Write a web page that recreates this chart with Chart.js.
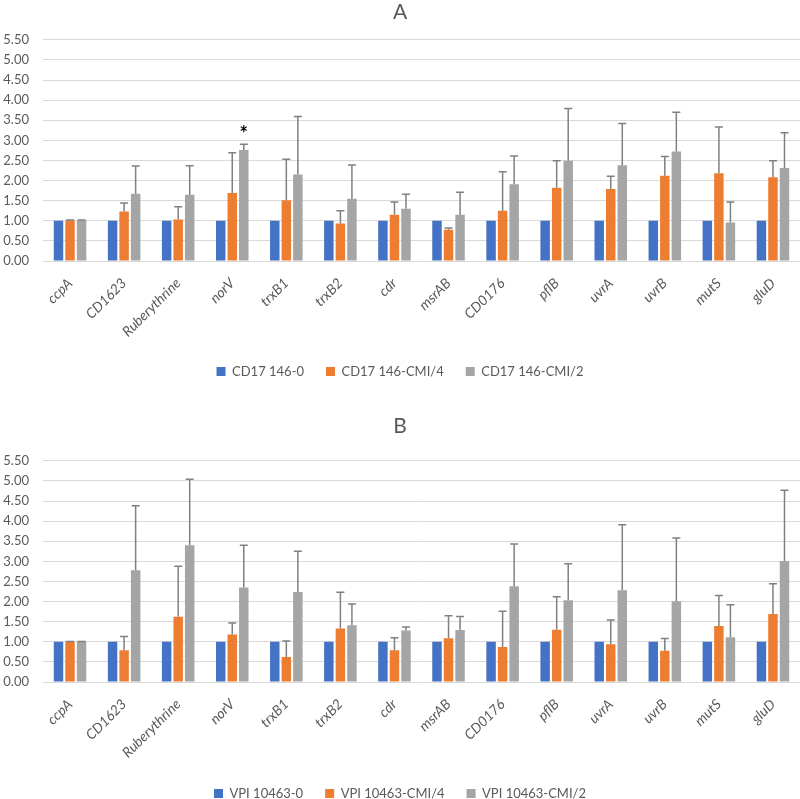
<!DOCTYPE html>
<html>
<head>
<meta charset="utf-8">
<script src="https://cdn.jsdelivr.net/npm/chart.js@4.4.1/dist/chart.umd.min.js"></script>
<style>
  html, body { margin: 0; padding: 0; background: #fff; overflow: hidden; width: 800px; height: 799px; }
  .panel { position: absolute; left: 0; width: 800px; }
  #panelA { top: 0; height: 388px; }
  #panelB { top: 410px; height: 400px; }
</style>
</head>
<body>
<div class="panel" id="panelA"><canvas id="chartA"></canvas></div>
<div class="panel" id="panelB"><canvas id="chartB"></canvas></div>
<script>
"use strict";

const genes = ["ccpA", "CD1623", "Ruberythrine", "norV", "trxB1", "trxB2", "cdr",
    "msrAB", "CD0176", "pflB", "uvrA", "uvrB", "mutS", "gluD"];

// panel A - CD17 146
const seriesA = ["CD17 146-0", "CD17 146-CMI/4", "CD17 146-CMI/2"];
const aBase = [1, 1, 1, 1, 1, 1, 1, 1, 1, 1, 1, 1, 1, 1];
const aQuarter = [1.01, 1.23, 1.03, 1.69, 1.51, 0.93, 1.15, 0.78, 1.25, 1.82, 1.79, 2.12, 2.18, 2.08];
const aQuarterErr = [0.01, 0.21, 0.32, 1.00, 1.02, 0.32, 0.32, 0.04, 0.97, 0.67, 0.32, 0.48, 1.15, 0.41];
const aHalf = [1.01, 1.67, 1.65, 2.76, 2.15, 1.55, 1.30, 1.15, 1.91, 2.49, 2.38, 2.72, 0.96, 2.31];
const aHalfErr = [0.01, 0.69, 0.72, 0.14, 1.44, 0.84, 0.36, 0.56, 0.70, 1.30, 1.04, 0.98, 0.51, 0.88];
const aStars = ["norV"];

// panel B - VPI 10463
const seriesB = ["VPI 10463-0", "VPI 10463-CMI/4", "VPI 10463-CMI/2"];
const bBase = [1, 1, 1, 1, 1, 1, 1, 1, 1, 1, 1, 1, 1, 1];
const bQuarter = [1.00, 0.79, 1.62, 1.18, 0.62, 1.33, 0.79, 1.09, 0.87, 1.30, 0.94, 0.78, 1.39, 1.69];
const bQuarterErr = [0.01, 0.34, 1.26, 0.29, 0.40, 0.90, 0.31, 0.56, 0.89, 0.82, 0.60, 0.30, 0.76, 0.75];
const bHalf = [1.00, 2.78, 3.40, 2.35, 2.24, 1.41, 1.28, 1.29, 2.38, 2.03, 2.28, 2.01, 1.11, 3.01];
const bHalfErr = [0.01, 1.60, 1.64, 1.05, 1.01, 0.53, 0.09, 0.34, 1.05, 0.91, 1.63, 1.57, 0.81, 1.76];
const bStars = [];

const yTicks = [0, 0.5, 1, 1.5, 2, 2.5, 3, 3.5, 4, 4.5, 5, 5.5];

const colors = ["#4472C4", "#ED7D31", "#A5A5A5"];
const textColor = "#595959";
const fontName = "Lato, 'Open Sans', sans-serif";

// draws upper error bars and significance stars
const errorBars = {
    id: "errorBars",
    afterDatasetsDraw(chart) {
        const ctx = chart.ctx;
        const yScale = chart.scales.y;
        ctx.save();
        ctx.strokeStyle = "#808080";
        ctx.lineWidth = 1.5;
        chart.data.datasets.forEach((ds, di) => {
            if (!ds.errors) return;
            const meta = chart.getDatasetMeta(di);
            meta.data.forEach((bar, i) => {
                const err = ds.errors[i];
                if (!err) return;
                const top = yScale.getPixelForValue(ds.data[i] + err);
                ctx.beginPath();
                ctx.moveTo(bar.x, bar.y);
                ctx.lineTo(bar.x, top);
                ctx.moveTo(bar.x - 4, top);
                ctx.lineTo(bar.x + 4, top);
                ctx.stroke();

                if (ds.stars && ds.stars.includes(chart.data.labels[i])) {
                    ctx.fillStyle = "#000";
                    ctx.font = "bold 20px " + fontName;
                    ctx.textAlign = "center";
                    ctx.textBaseline = "middle";
                    ctx.fillText("*", bar.x, top - 10);
                }
            });
        });
        ctx.restore();
    }
};

function makeChart(id, title, names, base, quarter, quarterErr, half, halfErr, stars, titlePad, xHeight) {
    return new Chart(document.getElementById(id), {
        type: "bar",
        data: {
            labels: genes,
            datasets: [
                { label: names[0], data: base, backgroundColor: colors[0] },
                { label: names[1], data: quarter, errors: quarterErr, backgroundColor: colors[1] },
                { label: names[2], data: half, errors: halfErr, stars: stars, backgroundColor: colors[2] }
            ]
        },
        plugins: [errorBars],
        options: {
            responsive: true,
            maintainAspectRatio: false,
            animation: false,
            categoryPercentage: 0.64,
            barPercentage: 0.82,
            layout: { padding: 0 },
            plugins: {
                title: {
                    display: true,
                    text: title,
                    color: textColor,
                    font: { family: fontName, size: 21, weight: "normal" },
                    padding: titlePad
                },
                legend: {
                    position: "bottom",
                    labels: {
                        boxWidth: 9,
                        boxHeight: 9,
                        padding: 22,
                        color: textColor,
                        font: { family: fontName, size: 13 }
                    }
                },
                tooltip: { enabled: false }
            },
            scales: {
                x: {
                    grid: { display: false },
                    border: { display: false },
                    ticks: {
                        color: textColor,
                        font: { family: fontName, size: 14, style: "italic" },
                        minRotation: 45,
                        maxRotation: 45,
                        padding: 6,
                        autoSkip: false
                    },
                    afterFit(scale) { scale.height = xHeight; }
                },
                y: {
                    min: 0,
                    max: 5.5,
                    grid: { color: "#d9d9d9", lineWidth: 1, drawTicks: false },
                    border: { display: false },
                    afterBuildTicks(scale) { scale.ticks = yTicks.map((v) => ({ value: v })); },
                    ticks: {
                        color: textColor,
                        font: { family: fontName, size: 13 },
                        padding: 14,
                        callback: (v) => Number(v).toFixed(2)
                    },
                    afterFit(scale) { scale.width = 43; }
                }
            }
        }
    });
}

makeChart("chartA", "A", seriesA, aBase, aQuarter, aQuarterErr, aHalf, aHalfErr, aStars,
    { top: 0, bottom: 14.6 }, 82);
makeChart("chartB", "B", seriesB, bBase, bQuarter, bQuarterErr, bHalf, bHalfErr, bStars,
    { top: 4, bottom: 21.6 }, 83);
</script>
</body>
</html>
